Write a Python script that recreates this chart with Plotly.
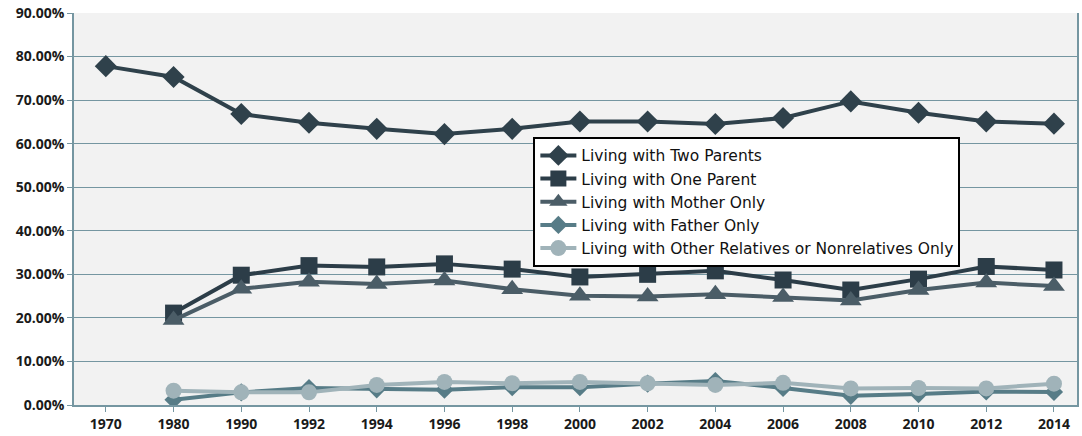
import plotly.graph_objects as go

years = ["1970", "1980", "1990", "1992", "1994", "1996", "1998", "2000",
         "2002", "2004", "2006", "2008", "2010", "2012", "2014"]

two_parents = [77.8, 75.3, 66.8, 64.8, 63.4, 62.2, 63.4, 65.1, 65.1, 64.5, 65.9, 69.7, 67.1, 65.1, 64.6]
one_parent = [None, 21.1, 29.8, 32.0, 31.7, 32.4, 31.2, 29.4, 30.0, 30.8, 28.7, 26.4, 28.9, 31.8, 31.0]
mother_only = [None, 19.5, 26.7, 28.3, 27.8, 28.6, 26.6, 25.1, 24.9, 25.4, 24.8, 24.0, 26.4, 28.1, 27.3]
father_only = [None, 1.2, 2.9, 3.9, 3.6, 3.5, 4.1, 4.1, 4.9, 5.5, 3.9, 2.1, 2.5, 3.1, 3.0]
other_relatives = [None, 3.3, 2.9, 2.9, 4.6, 5.3, 5.0, 5.3, 5.0, 4.6, 5.1, 3.8, 3.9, 3.8, 4.9]

tick_vals = [0, 10, 20, 30, 40, 50, 60, 70, 80, 90]
tick_text = ["0.00%", "10.00%", "20.00%", "30.00%", "40.00%", "50.00%",
             "60.00%", "70.00%", "80.00%", "90.00%"]

series = [
    ("Living with Two Parents", two_parents, "#2f414b", "diamond", 17),
    ("Living with One Parent", one_parent, "#2c3d48", "square", 17),
    ("Living with Mother Only", mother_only, "#4b5d67", "triangle-up", 19),
    ("Living with Father Only", father_only, "#577c87", "diamond", 14),
    ("Living with Other Relatives or Nonrelatives Only", other_relatives, "#a0b3b9", "circle", 16),
]

fig = go.Figure()
for name, vals, color, sym, size in series:
    fig.add_trace(go.Scatter(
        x=years, y=vals, name=name, mode="lines+markers",
        line=dict(color=color, width=4),
        marker=dict(symbol=sym, size=size, color=color),
        connectgaps=False,
    ))

axis_color = "#7596a1"
tick_font = dict(family="Open Sans", size=14, color="#1a1a1a", weight="bold")
fig.update_layout(
    width=1082, height=436,
    margin=dict(l=74, r=5, t=13, b=31),
    paper_bgcolor="white",
    plot_bgcolor="#f2f2f2",
    font=dict(family="Open Sans", size=13, color="#1a1a1a"),
    showlegend=True,
    legend=dict(
        x=0.458, y=0.684, xanchor="left", yanchor="top",
        bgcolor="white", bordercolor="black", borderwidth=2,
        font=dict(family="DejaVu Sans", size=15.5, color="#111111"),
        tracegroupgap=0, itemwidth=36,
    ),
    xaxis=dict(
        type="category", range=[-0.47, 14.34],
        showgrid=False, showline=True, linecolor=axis_color, linewidth=1.5,
        ticks="outside", ticklen=5, tickcolor=axis_color, tickwidth=1,
        tickfont=tick_font, mirror=False, zeroline=False, automargin=False,
    ),
    yaxis=dict(
        range=[0, 90], tickvals=tick_vals, ticktext=tick_text,
        showgrid=True, gridcolor=axis_color, gridwidth=1.2,
        showline=True, linecolor=axis_color, linewidth=1.5, mirror=True,
        ticks="outside", ticklen=5, tickcolor=axis_color, tickwidth=1,
        tickfont=tick_font, zeroline=False, automargin=False,
    ),
)

fig.write_html("out.html", config={"displayModeBar": False},
               post_script="document.body.style.margin='0px';")
